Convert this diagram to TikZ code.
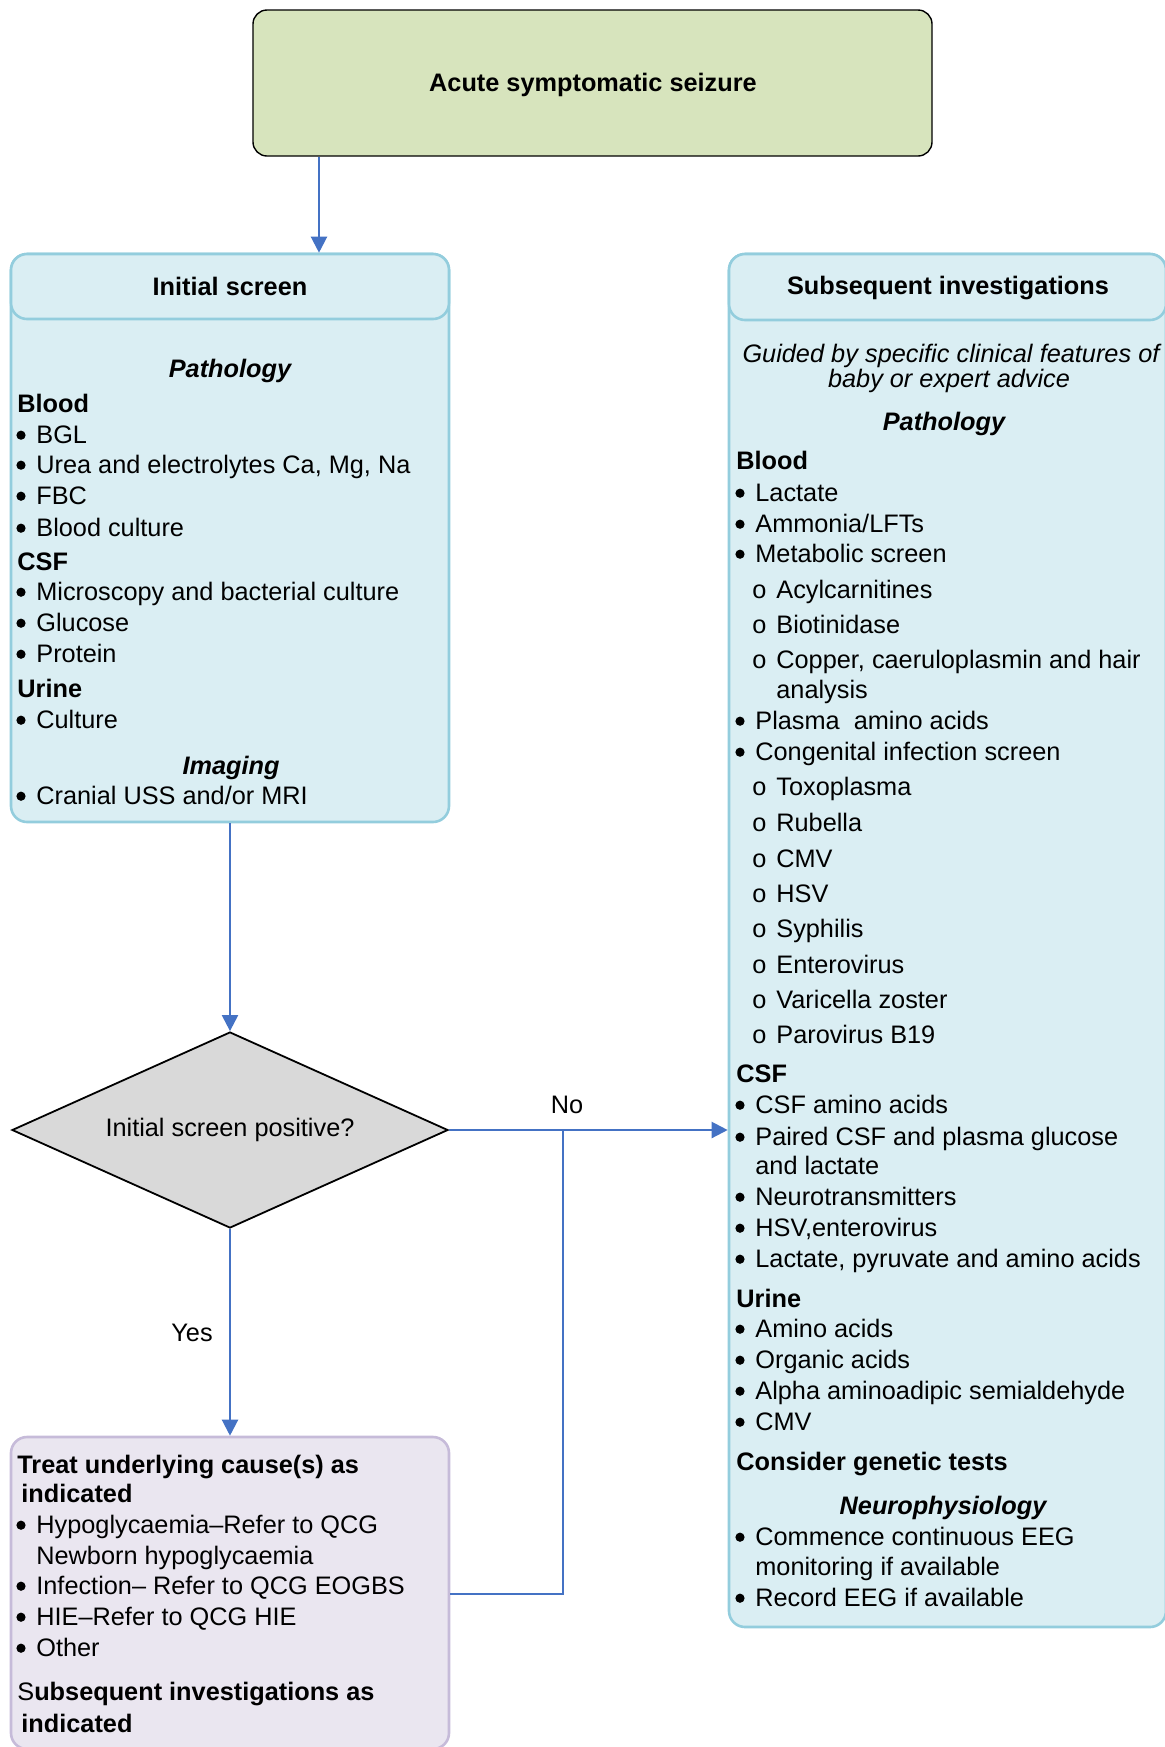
\documentclass[tikz,border=0pt]{standalone}
\usepackage{fontspec}
\setmainfont{Liberation Sans}
\usetikzlibrary{shapes.geometric,arrows.meta,fit}

\definecolor{boxblue}{HTML}{DAEEF3}
\definecolor{edgeblue}{HTML}{93CDDD}
\definecolor{topgreen}{HTML}{D7E4BD}
\definecolor{treatfill}{HTML}{EAE6F0}
\definecolor{treatedge}{HTML}{C6BBD9}
\definecolor{decgray}{HTML}{D9D9D9}
\definecolor{flowblue}{HTML}{4472C4}

\newcommand{\fs}{\fontsize{12.65}{15}\selectfont}
\newcommand{\dotmark}{\tikz[baseline=0pt]\fill (2.3pt,3.9pt) circle[radius=2.3pt];}

\tikzset{
  txt/.style={anchor=base west,inner sep=0pt,font=\fs},
  hd/.style={txt,font=\fs\bfseries},
  ttl/.style={anchor=base,inner sep=0pt,font=\fs\bfseries},
  sect/.style={anchor=base,inner sep=0pt,font=\fs\bfseries\itshape},
  itm/.style={txt,execute at begin node={\makebox[10pt][l]{\dotmark}}},
  subitm/.style={txt,execute at begin node={\makebox[12pt][l]{o}}},
  panel/.style={draw=edgeblue,line width=1.3pt,fill=boxblue,rounded corners=8pt,inner sep=0pt},
  flow/.style={draw=flowblue,line width=1.1pt,-{Triangle[width=8pt,length=8pt]}},
  link/.style={draw=flowblue,line width=1.1pt}
}

\begin{document}
\begin{tikzpicture}[x=0.5pt,y=-0.5pt]
\useasboundingbox (0,0) rectangle (1165,1747);

% boxes
\node[draw=black,line width=0.7pt,fill=topgreen,rounded corners=7pt,inner sep=0pt,fit={(253,10) (932,156)}] (top) {};
\node[panel,fit={(11,254) (449,822)}] (init) {};
\node[panel,fit={(11,254) (449,319)}] (inithd) {};
\node[panel,fit={(729,254) (1166,1627)}] (subs) {};
\node[panel,fit={(729,254) (1166,320)}] (subshd) {};
\node[diamond,draw=black,line width=0.9pt,fill=decgray,aspect=2.2,inner sep=0pt,minimum width=218pt,minimum height=98pt,font=\fs] (dec) at (230,1130) {Initial screen positive?};
\node[draw=treatedge,line width=1.3pt,fill=treatfill,rounded corners=8pt,inner sep=0pt,fit={(11,1437) (449,1749)}] (treat) {};

\node[ttl] (toptxt) at (593,91) {Acute symptomatic seizure};
\node[ttl] (inittxt) at (230,295) {Initial screen};
\node[ttl] (substxt) at (948,294) {Subsequent investigations};

% initial screen
\node[sect] (ipath) at (230,377) {Pathology};
\node[sect] (iimg) at (231,774) {Imaging};
\foreach \yy/\tx [count=\n] in {412/Blood,570/CSF,697/Urine}
  \node[hd] (ih\n) at (17,\yy) {\tx};
\foreach \yy/\tx [count=\n] in {443/BGL,473/{Urea and electrolytes Ca, Mg, Na},504/FBC,536/{Blood culture},
    600/{Microscopy and bacterial culture},631/Glucose,662/Protein,728/Culture,804/{Cranial USS and/or MRI}}
  \node[itm] (ii\n) at (16,\yy) {\tx};

% subsequent investigations
\node[txt,anchor=base,font=\fs\itshape] (guide1) at (951,362) {\makebox[208.5pt][s]{Guided by specific clinical features of}};
\node[txt,anchor=base,font=\fs\itshape] (guide2) at (949,387) {baby or expert advice};
\node[sect] (spath) at (944,430) {Pathology};
\node[sect] (sneuro) at (943,1514) {Neurophysiology};
\foreach \yy/\tx [count=\n] in {469/Blood,1082/CSF,1307/Urine,1470/{Consider genetic tests}}
  \node[hd] (sh\n) at (736,\yy) {\tx};
\foreach \yy/\tx [count=\n] in {501/Lactate,532/{Ammonia/LFTs},562/{Metabolic screen},729/{Plasma\ \ amino acids},
    760/{Congenital infection screen},1113/{CSF amino acids},1145/{Paired CSF and plasma glucose},
    1205/Neurotransmitters,1236/{HSV,enterovirus},1267/{Lactate, pyruvate and amino acids},
    1337/{Amino acids},1368/{Organic acids},1399/{Alpha aminoadipic semialdehyde},1430/CMV,
    1545/{Commence continuous EEG},1606/{Record EEG if available}}
  \node[itm] (si\n) at (735,\yy) {\tx};
\foreach \yy/\tx [count=\n] in {598/Acylcarnitines,633/Biotinidase,668/{Copper, caeruloplasmin and hair},
    795/Toxoplasma,831/Rubella,867/CMV,902/HSV,937/Syphilis,973/Enterovirus,1008/{Varicella zoster},1043/{Parovirus B19}}
  \node[subitm] (ss\n) at (752,\yy) {\tx};
\node[txt] (sc1) at (776,698) {analysis};
\node[txt] (sc2) at (755,1174) {and lactate};
\node[txt] (sc3) at (755,1575) {monitoring if available};

% treat box
\node[hd] (t1) at (17,1473) {Treat underlying cause(s) as};
\node[hd] (t2) at (21,1502) {indicated};
\foreach \yy/\tx [count=\n] in {1533/{Hypoglycaemia–Refer to QCG},1594/{Infection– Refer to QCG EOGBS},
    1625/{HIE–Refer to QCG HIE},1656/Other}
  \node[itm] (ti\n) at (16,\yy) {\tx};
\node[txt] (tc) at (36,1564) {Newborn hypoglycaemia};
\node[hd] (t3) at (17,1700) {{\mdseries S}ubsequent investigations as};
\node[hd] (t4) at (21,1732) {indicated};

% connectors
\coordinate (join) at (563,1130);
\draw[flow] (top.south -| 319,0) -- (inithd.north -| 319,0);
\draw[flow] (init.south) -- (dec.north);
\draw[flow] (dec.east) -- (subs.west |- dec.east);
\draw[flow] (dec.south) -- (treat.north);
\draw[link] (treat.east |- 0,1594) -| (join);
\node[txt,anchor=base] (no) at (567,1113) {No};
\node[txt,anchor=base] (yes) at (192,1341) {Yes};
\end{tikzpicture}
\end{document}
